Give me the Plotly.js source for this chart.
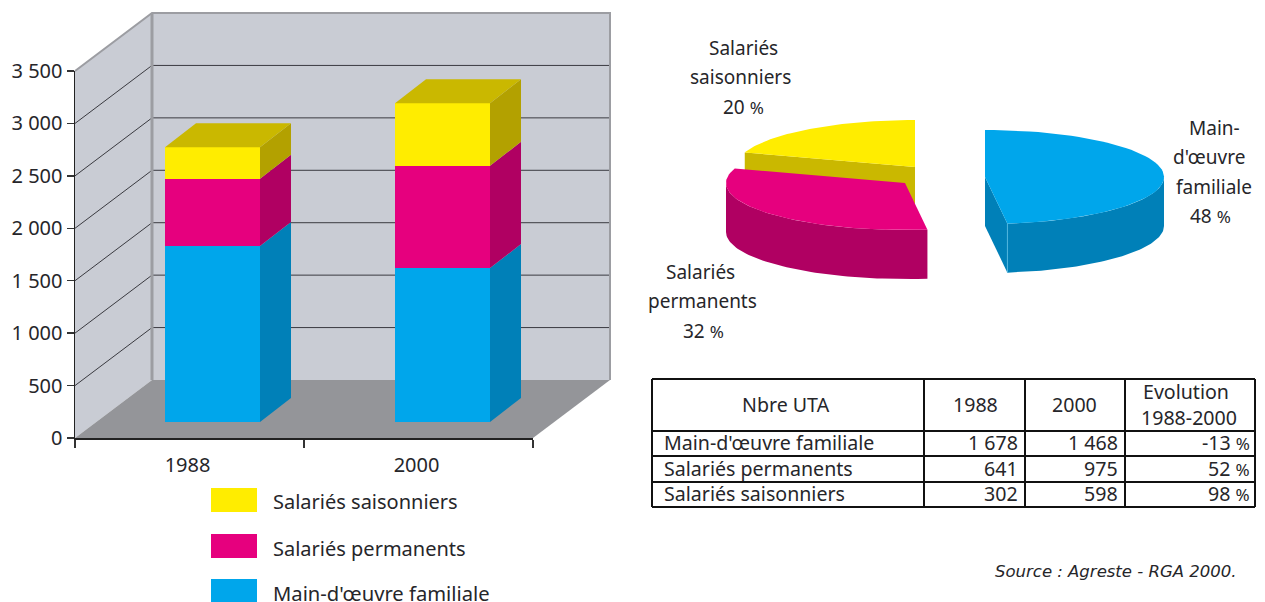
<!DOCTYPE html>
<html><head><meta charset="utf-8">
<script src="https://cdn.plot.ly/plotly-3.0.1.min.js"></script>
<style>html,body{margin:0;padding:0;background:#fff}#c{width:1265px;height:602px}</style>
</head><body><div id="c"></div>
<script>
// ---- data ----
const years = ['1988', '2000'];
const seriesNames = ['Main-d\'œuvre familiale', 'Salariés permanents', 'Salariés saisonniers'];
const familiale = [1678, 1468];
const permanents = [641, 975];
const saisonniers = [302, 598];
const yTickVals = [0, 500, 1000, 1500, 2000, 2500, 3000, 3500];
const yTickText = ['0', '500', '1 000', '1 500', '2 000', '2 500', '3 000', '3 500'];
const pieShares = [48, 32, 20];
const tableHeader = ['Nbre UTA', '1988', '2000'];
const tableEvolutionHeader = ['Evolution', '1988-2000'];
const table1988 = ['1 678', '641', '302'];
const table2000 = ['1 468', '975', '598'];
const tableEvolution = [-13, 52, 98];

// ---- styles ----
const FONT = '"Noto Sans", sans-serif', TXT = '#26262a';
const front = ['#00A6EB', '#E6007E', '#FFED00'];
const side = ['#0080B8', '#B00062', '#B3A100'];
const topYellow = '#CAB800', topMagenta = '#E6007E';
const W = 1265, H = 602;
const px = x => x / W, py = y => 1 - y / H;

// frame in pixels
const AX = {l: 75, r: 533, b: 438, t: 71};
const unitX = (AX.r - AX.l) / 2, unitY = (AX.b - AX.t) / 3500;
const wallDx = 77 / unitX, wallDy = 58 / unitY;
const barUnit = 230;
const barDx = 31 / barUnit, barDy = 24 / unitY, barW = 95 / barUnit;

const traces = [];
const poly = (xs, ys, color, xa, ya) => traces.push({type: 'scatter', mode: 'lines', x: xs.concat(xs[0]), y: ys.concat(ys[0]),
  fill: 'toself', fillcolor: color, line: {width: 0, color: color}, xaxis: xa, yaxis: ya, hoverinfo: 'skip', cliponaxis: false});
const line = (xs, ys, color, w, xa, ya) => traces.push({type: 'scatter', mode: 'lines', x: xs, y: ys,
  line: {width: w, color: color}, xaxis: xa, yaxis: ya, hoverinfo: 'skip', cliponaxis: false});

// ---- stage: walls, floor, grid (same scale as the value axis) ----
const xL = -0.5, xR = 1.5, yTop = 3500;
const WALL = '#C9CCD4', FLOOR = '#949599', EDGE = '#9C9DA2';
poly([xL + wallDx, xR + wallDx, xR + wallDx, xL + wallDx], [wallDy, wallDy, yTop + wallDy, yTop + wallDy], WALL, 'x', 'y');
poly([xL, xL + wallDx, xL + wallDx, xL], [0, wallDy, yTop + wallDy, yTop], WALL, 'x', 'y');
poly([xL, xL + wallDx, xR + wallDx, xR], [0, wallDy, wallDy, 0], FLOOR, 'x', 'y');
yTickVals.slice(1, -1).forEach(v => {
  line([xL, xL + wallDx, xR + wallDx], [v, v + wallDy, v + wallDy], '#3a3a40', 1, 'x', 'y');
});
line([xL, xL + wallDx, xR + wallDx, xR + wallDx], [yTop, yTop + wallDy, yTop + wallDy, wallDy], EDGE, 2, 'x', 'y');
line([xL + wallDx, xL + wallDx], [wallDy, yTop + wallDy], EDGE, 3, 'x', 'y');

// ---- real axes ----
traces.push({type: 'scatter', mode: 'markers', x: years, y: [0, 0], marker: {opacity: 0, size: 1}, xaxis: 'x2', yaxis: 'y2', hoverinfo: 'skip'});

// ---- bars ----
const stacks = [familiale, permanents, saisonniers];
const idx = years.map((_, i) => i);
stacks.forEach((vals, s) => traces.push({type: 'bar', x: idx, y: vals, width: barW, marker: {color: front[s], line: {width: 0}},
  name: seriesNames[s], xaxis: 'x3', yaxis: 'y3', hoverinfo: 'skip'}));
idx.forEach(i => {
  let base = 0;
  const xr = i + barW / 2, xl = i - barW / 2;
  stacks.forEach((vals, s) => {
    const t = base + vals[i];
    poly([xr, xr + barDx, xr + barDx, xr], [base, base + barDy, t + barDy, t], side[s], 'x3', 'y3');
    base = t;
  });
  poly([xl, xl + barDx, xr + barDx, xr], [base, base + barDy, base + barDy, base], topYellow, 'x3', 'y3');
});

// ---- pie (page-pixel axes x4/y4) ----
const RX = 179, RY = 47, DEPTH = 49;
const total = pieShares.reduce((a, b) => a + b, 0);
const ang = f => f / total * 2 * Math.PI;
const aBlue = ang(pieShares[0]), aMag = ang(pieShares[0] + pieShares[1]), aEnd = 2 * Math.PI;
const ell = (c, a, d = 0) => [c[0] + RX * Math.sin(a), c[1] - RY * Math.cos(a) + d];
const arc = (c, a0, a1, d = 0) => { const n = 60, o = []; for (let k = 0; k <= n; k++) o.push(ell(c, a0 + (a1 - a0) * k / n, d)); return o; };
const polyP = (pts, color) => poly(pts.map(p => p[0]), pts.map(p => p[1]), color, 'x4', 'y4');
const cBlue = [985, 177], cMag = [905, 183], cYel = [915, 167];
// yellow
polyP([cYel, ell(cYel, aMag), ell(cYel, aMag, DEPTH), [cYel[0], cYel[1] + DEPTH]], topYellow);
polyP([cYel, ...arc(cYel, aMag, aEnd)], front[2]);
// magenta
polyP([...arc(cMag, aBlue, 1.5 * Math.PI), ...arc(cMag, 1.5 * Math.PI, aBlue, DEPTH)], side[1]);
polyP([cMag, ...arc(cMag, aBlue, aMag)], topMagenta);
// blue
polyP([cBlue, ell(cBlue, aBlue), ell(cBlue, aBlue, DEPTH), [cBlue[0], cBlue[1] + DEPTH]], side[0]);
polyP([...arc(cBlue, 0.5 * Math.PI, aBlue), ...arc(cBlue, aBlue, 0.5 * Math.PI, DEPTH)], side[0]);
polyP([cBlue, ...arc(cBlue, 0, aBlue)], front[0]);
line([ell(cBlue, aBlue)[0], ell(cBlue, aBlue)[0]], [ell(cBlue, aBlue)[1], ell(cBlue, aBlue, DEPTH)[1]], '#4FB5DE', 1, 'x4', 'y4');

// ---- text helpers ----
const annotations = [];
const text = (t, x, y, anchor = 'center', size = 19, extra = {}) => annotations.push(Object.assign({
  text: t, xref: 'paper', yref: 'paper', x: px(x), y: py(y), xanchor: anchor, yanchor: 'middle', showarrow: false, borderpad: 0,
  font: {family: FONT, size, color: TXT}}, extra));
const pctStr = v => v + ' <span style="font-size:17px">%</span>';

// pie labels
[['Salariés', 743, 48], ['saisonniers', 741, 77], [pctStr(pieShares[2]), 743, 107],
 ['Salariés', 700, 272], ['permanents', 702, 301], [pctStr(pieShares[1]), 703, 331],
 ['Main-', 1214, 128], ['d\'œuvre', 1209, 157], ['familiale', 1214, 187], [pctStr(pieShares[0]), 1210, 216]
].forEach(a => text(a[0], a[1], a[2]));

// legend
const shapes = [];
const legendY = [[488, 512], [534, 558], [579, 602]];
[2, 1, 0].forEach((s, i) => {
  shapes.push({type: 'rect', xref: 'paper', yref: 'paper', x0: px(211), x1: px(257), y0: py(legendY[i][1]), y1: py(legendY[i][0]),
    fillcolor: front[s], line: {width: 0}});
});
text(seriesNames[2], 272, 501, 'left', 20);
text(seriesNames[1], 272, 548, 'left', 20);
text(seriesNames[0], 272, 593, 'left', 20.2);

// table
const colX = [652, 924, 1025, 1125, 1255], rowY = [379, 431, 456, 482, 507];
colX.forEach(x => shapes.push({type: 'line', xref: 'paper', yref: 'paper', x0: px(x), x1: px(x), y0: py(rowY[0]), y1: py(rowY[4]), line: {color: '#111', width: 2}}));
rowY.forEach(y => shapes.push({type: 'line', xref: 'paper', yref: 'paper', x0: px(colX[0]), x1: px(colX[4]), y0: py(y), y1: py(y), line: {color: '#111', width: 2}}));
const TF = 19.6;
text(tableHeader[0], 786, 404, 'center', TF); text(tableHeader[1], 975, 404, 'center', TF); text(tableHeader[2], 1074, 404, 'center', TF);
text(tableEvolutionHeader[0], 1186, 391, 'center', TF); text(tableEvolutionHeader[1], 1189, 417, 'center', TF);
const rowC = [442, 468, 493];
seriesNames.forEach((n, i) => {
  text(n, 663, rowC[i], 'left', TF);
  text(table1988[i], 1019, rowC[i], 'right', TF);
  text(table2000[i], 1119, rowC[i], 'right', TF);
  text(pctStr(tableEvolution[i]), 1251, rowC[i], 'right', TF);
});
text('<i>Source : Agreste - RGA 2000.</i>', 1237, 571, 'right', 16.5, {font: {family: '"DejaVu Sans", sans-serif', size: 16.5, color: TXT}});

const hidden = {visible: false, fixedrange: true};
const layout = {
  width: W, height: H, margin: {l: 0, r: 0, t: 0, b: 0}, paper_bgcolor: '#fff', plot_bgcolor: 'rgba(0,0,0,0)',
  showlegend: false, barmode: 'stack', shapes, annotations,
  xaxis: Object.assign({}, hidden, {domain: [0, 1], anchor: 'y', range: [xL + (0 - AX.l) / unitX, xL + (W - AX.l) / unitX]}),
  yaxis: Object.assign({}, hidden, {domain: [0, 1], anchor: 'x', range: [(AX.b - H) / unitY, AX.b / unitY]}),
  xaxis2: {domain: [px(AX.l), px(AX.r)], anchor: 'y2', type: 'category', categoryarray: years, range: [-0.5, 1.5], tickson: 'boundaries',
    ticks: 'outside', ticklen: 8, tickwidth: 1.5, tickcolor: '#333', showgrid: false, zeroline: false, showline: true, linecolor: '#222', linewidth: 2,
    tickfont: {family: FONT, size: 20, color: TXT}, fixedrange: true, ticklabelstandoff: 8, ticklabelshift: -2},
  yaxis2: {domain: [py(AX.b), py(AX.t)], anchor: 'x2', range: [0, 3500], tickvals: yTickVals, ticktext: yTickText, ticks: 'outside', ticklen: 7,
    tickwidth: 1.5, tickcolor: '#333', showgrid: false, zeroline: false, showline: true, linecolor: '#222', linewidth: 1.5,
    tickfont: {family: FONT, size: 20, color: TXT}, fixedrange: true},
  xaxis3: Object.assign({}, hidden, {domain: [px(212.5 - barUnit / 2), px(442.5 + barUnit / 2)], anchor: 'y3', range: [-0.5, 1.5]}),
  yaxis3: Object.assign({}, hidden, {domain: [py(AX.b - 16), py(AX.t - 16)], anchor: 'x3', range: [0, 3500]}),
  xaxis4: Object.assign({}, hidden, {domain: [0, 1], anchor: 'y4', range: [0, W]}),
  yaxis4: Object.assign({}, hidden, {domain: [0, 1], anchor: 'x4', range: [H, 0]})
};
Plotly.newPlot('c', traces, layout, {displayModeBar: false, staticPlot: true});
</script></body></html>
